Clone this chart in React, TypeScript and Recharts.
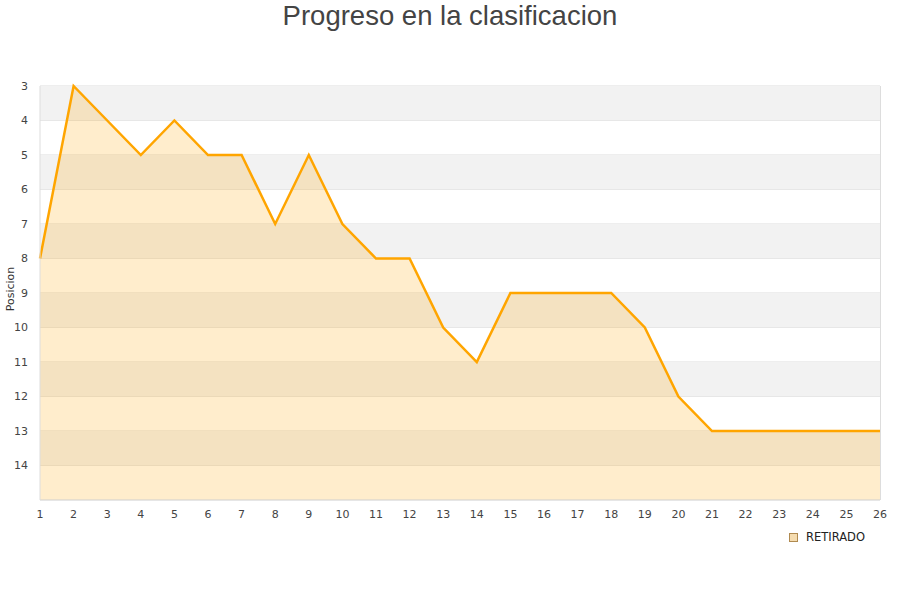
import React from "react";
import {
  ComposedChart,
  Area,
  XAxis,
  YAxis,
  CartesianGrid,
  ReferenceArea,
} from "recharts";

const rounds = [1, 2, 3, 4, 5, 6, 7, 8, 9, 10, 11, 12, 13, 14, 15, 16, 17, 18, 19, 20, 21, 22, 23, 24, 25, 26];
const positions = [8, 3, 4, 5, 4, 5, 5, 7, 5, 7, 8, 8, 10, 11, 9, 9, 9, 9, 10, 12, 13, 13, 13, 13, 13, 13];
const yTicks = [3, 4, 5, 6, 7, 8, 9, 10, 11, 12, 13, 14];
const grayBands = [3, 5, 7, 9, 11, 13];
const title = "Progreso en la clasificacion";
const yLabel = "Posicion";
const legendLabel = "RETIRADO";

const data = rounds.map((r, i) => ({ round: r, pos: positions[i] }));

const tickStyle = { fontSize: 11, fill: "#444", fontFamily: "DejaVu Sans" };

export default function App() {
  return (
    <div style={{ position: "absolute", left: 0, top: 0, width: 900, height: 600, background: "#fff" }}>
      <div
        style={{
          position: "absolute",
          left: 0,
          top: 0,
          width: 900,
          textAlign: "center",
          fontFamily: "Liberation Sans, Arial, sans-serif",
          fontSize: 27.5,
          color: "#444",
          lineHeight: "32px",
        }}
      >
        {title}
      </div>
      <ComposedChart
        width={900}
        height={600}
        data={data}
        margin={{ top: 86, right: 20, bottom: 70, left: 0 }}
      >
        {grayBands.map((b) => (
          <ReferenceArea key={b} y1={b} y2={b + 1} fill="#f2f2f2" fillOpacity={1} stroke="none" ifOverflow="visible" />
        ))}
        <CartesianGrid vertical={false} stroke="#dddddd" horizontalValues={[3, 4, 5, 6, 7, 8, 9, 10, 11, 12, 13, 14, 15]} />
        <XAxis
          dataKey="round"
          type="number"
          domain={[1, 26]}
          ticks={rounds}
          interval={0}
          tickLine={false}
          axisLine={{ stroke: "#dddddd" }}
          tick={tickStyle}
          tickMargin={4}
          height={30}
        />
        <YAxis
          type="number"
          domain={[3, 15]}
          reversed
          ticks={yTicks}
          interval={0}
          tickLine={false}
          axisLine={{ stroke: "#dddddd" }}
          tick={tickStyle}
          width={40}
          tickMargin={6}
          label={{
            value: yLabel,
            angle: -90,
            position: "insideLeft",
            offset: 10,
            dy: -4,
            style: { fontSize: 11, fill: "#333", fontFamily: "DejaVu Sans", textAnchor: "middle" },
          }}
        />
        <Area
          type="linear"
          dataKey="pos"
          baseValue={15}
          stroke="#FFA500"
          strokeWidth={2.5}
          fill="#FFA500"
          fillOpacity={0.2}
          dot={false}
          activeDot={false}
          isAnimationActive={false}
        />
      </ComposedChart>
      <div
        style={{
          position: "absolute",
          left: 880,
          top: 86,
          width: 1,
          height: 414,
          background: "#dddddd",
        }}
      />
      <div
        style={{
          position: "absolute",
          left: 789,
          top: 530,
          display: "flex",
          alignItems: "center",
          fontFamily: "DejaVu Sans",
          fontSize: 11.5,
          color: "#222",
        }}
      >
        <span
          style={{
            display: "inline-block",
            width: 7,
            height: 7,
            border: "1px solid #b08a50",
            background: "#f5dcb0",
            marginRight: 8,
          }}
        />
        {legendLabel}
      </div>
    </div>
  );
}
